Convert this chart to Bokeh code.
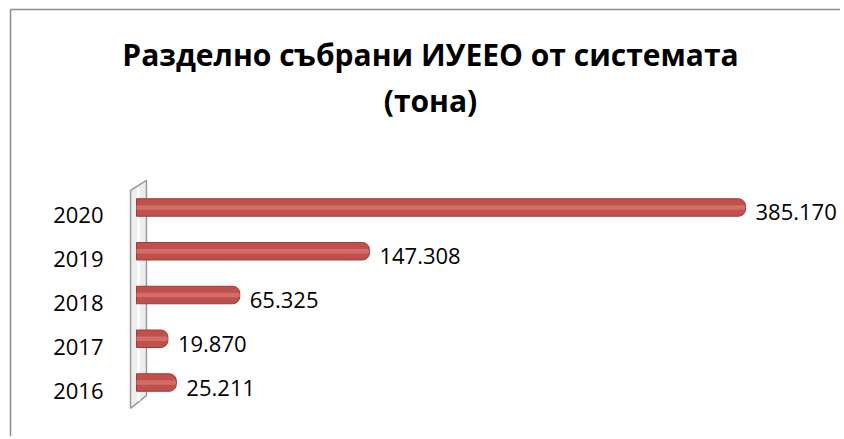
from bokeh.plotting import figure
from bokeh.models import ColumnDataSource, Range1d
from bokeh.core.properties import value
from bokeh.embed import file_html
from bokeh.resources import INLINE

years = ["2016", "2017", "2018", "2019", "2020"]
tons = [25.211, 19.870, 65.325, 147.308, 385.170]
labels = ["25.211", "19.870", "65.325", "147.308", "385.170"]
title_lines = ["Разделно събрани ИУЕЕО от системата", "(тона)"]

idx = list(range(len(years)))
src = ColumnDataSource(dict(y=idx, v=tons, lab=labels, yr=years, zero=[0] * len(years)))

W, H = 840, 436
x0, x1 = -86.02, 445.25
y0, y1 = -1.234, 8.731
px_x = (x1 - x0) / W
px_y = (y1 - y0) / H

p = figure(width=W, height=H, output_backend="svg", toolbar_location=None,
           x_range=Range1d(x0, x1), y_range=Range1d(y0, y1),
           min_border=0, min_border_left=0, min_border_right=0,
           min_border_top=0, min_border_bottom=0)
p.axis.visible = False
p.grid.visible = False
p.outline_line_color = None
p.background_fill_color = "white"
p.border_fill_color = "white"

# chart-area border (left and top visible)
bx = x0 + 10 * px_x
by = y1 - 9 * px_y
p.line([bx, bx], [y0 - 1, by], line_color="#8C8C8C", line_width=1.5)
p.line([bx, x1 + 10], [by, by], line_color="#8C8C8C", line_width=1.5)

# 3D wall
p.patch([-3.8, 6.3, 6.3, -3.8], [4.39, 4.62, -0.30, -0.59],
        fill_color="#EDEDED", line_color="#9A9A9A", line_width=1.5)
p.line([1.3, 1.3], [4.45, -0.42], line_color="#FFFFFF", line_width=3)

# bars
p.hbar(y="y", left="zero", right="v", height=0.40, source=src,
       fill_color="#C0504D", line_color="#9E3B38", line_width=1,
       border_radius=(0, 7, 7, 0))
p.hbar(y="y", left="zero", right="v", height=0.10, source=src,
       fill_color="#D6706C", line_color=None, fill_alpha=0.9,
       border_radius=(0, 4, 4, 0))

# value labels
p.text(x="v", y="y", text="lab", source=src, x_offset=10, y_offset=5,
       text_font=value("Open Sans"), text_font_size="22px",
       text_baseline="alphabetic", text_align="left", text_color="#000000")

# category labels
p.text(x="zero", y="y", text="yr", source=src, x_offset=-33, y_offset=8,
       text_font=value("Open Sans"), text_font_size="22px",
       text_baseline="alphabetic", text_align="right", text_color="#000000")

# title
xc = x0 + 430 * px_x
p.text(x=[xc, xc], y=[7.49, 6.45], text=title_lines,
       text_font=value("Open Sans"), text_font_size="30px", text_font_style="bold",
       text_baseline="alphabetic", text_align="center", text_color="#000000")

open("out.html", "w").write(file_html(p, INLINE))
